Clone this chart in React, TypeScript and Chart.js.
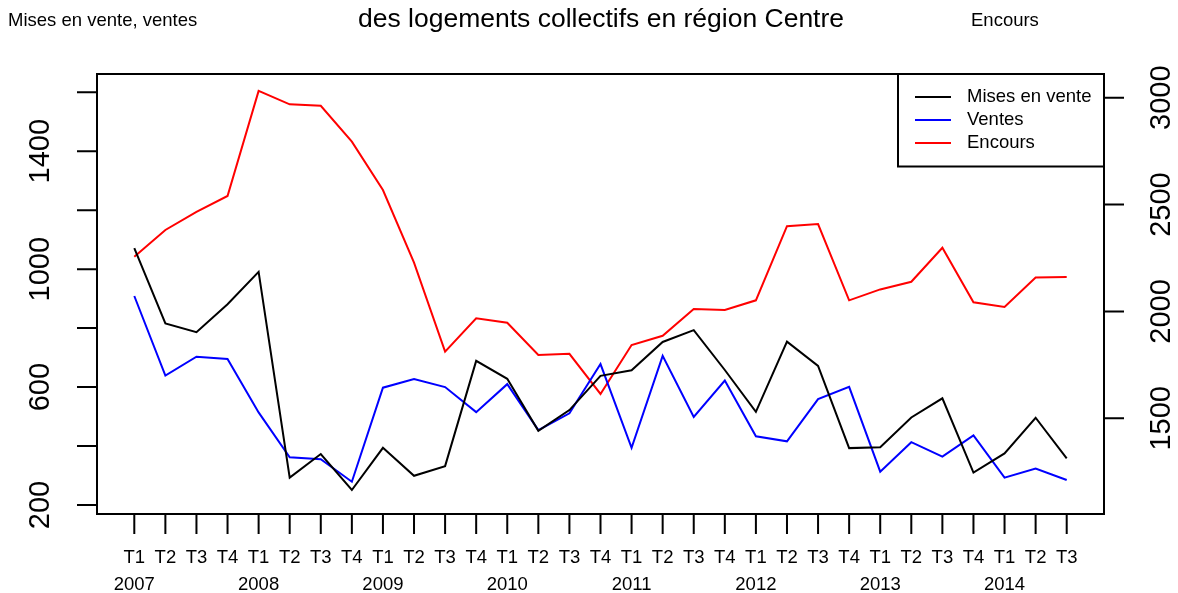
import React, { useEffect, useRef } from "react";
import { Chart, registerables } from "chart.js";

Chart.register(...registerables);

const quarters = [
  "T1", "T2", "T3", "T4", "T1", "T2", "T3", "T4", "T1", "T2", "T3", "T4",
  "T1", "T2", "T3", "T4", "T1", "T2", "T3", "T4", "T1", "T2", "T3", "T4",
  "T1", "T2", "T3", "T4", "T1", "T2", "T3",
];
const years = ["2007", "2008", "2009", "2010", "2011", "2012", "2013", "2014"];

const misesEnVente = [
  1071, 816, 786, 881, 991, 293, 373, 251, 394, 299, 332, 689,
  628, 452, 522, 638, 657, 753, 793, 658, 516, 754, 672, 393,
  396, 497, 562, 310, 375, 496, 358,
];
const ventes = [
  909, 639, 703, 695, 514, 362, 355, 279, 598, 627, 600, 515,
  610, 454, 511, 678, 394, 706, 499, 622, 433, 416, 559, 601,
  313, 413, 364, 436, 293, 324, 285,
];
const encours = [
  2256, 2381, 2466, 2540, 3032, 2969, 2962, 2794, 2568, 2228, 1812, 1968,
  1947, 1796, 1802, 1614, 1843, 1886, 2011, 2007, 2052, 2399, 2409, 2052,
  2103, 2139, 2298, 2043, 2021, 2159, 2161,
];

const leftTicks = [200, 400, 600, 800, 1000, 1200, 1400, 1600];
const leftLabels = [200, 600, 1000, 1400];
const rightTicks = [1500, 2000, 2500, 3000];

const seriesNames = ["Mises en vente", "Ventes", "Encours"];
const seriesColors = ["#000000", "#0000ff", "#ff0000"];

const FONT = '"Liberation Sans", Arial, Helvetica, sans-serif';

const decorPlugin = {
  id: "rDecor",
  afterDraw(chart: any) {
    const ctx = chart.ctx as CanvasRenderingContext2D;
    const area = chart.chartArea;
    const xs = chart.scales.x;
    const yl = chart.scales.y;
    const yr = chart.scales.y2;
    ctx.save();
    ctx.strokeStyle = "#000";
    ctx.fillStyle = "#000";
    ctx.lineWidth = 2;

    // box
    ctx.strokeRect(area.left, area.top, area.right - area.left, area.bottom - area.top);

    const tickLen = 20;
    // x ticks
    ctx.beginPath();
    quarters.forEach((_, i) => {
      const px = xs.getPixelForValue(i);
      ctx.moveTo(px, area.bottom);
      ctx.lineTo(px, area.bottom + tickLen);
    });
    ctx.stroke();
    ctx.font = `18.5px ${FONT}`;
    ctx.textAlign = "center";
    ctx.textBaseline = "middle";
    quarters.forEach((q, i) => {
      ctx.fillText(q, xs.getPixelForValue(i), 558);
    });
    years.forEach((y, k) => {
      ctx.fillText(y, xs.getPixelForValue(k * 4), 585);
    });

    // left ticks
    ctx.beginPath();
    leftTicks.forEach((v) => {
      const py = yl.getPixelForValue(v);
      ctx.moveTo(area.left, py);
      ctx.lineTo(area.left - tickLen, py);
    });
    ctx.stroke();
    ctx.font = `29px ${FONT}`;
    leftLabels.forEach((v) => {
      const py = yl.getPixelForValue(v);
      ctx.save();
      ctx.translate(41, py);
      ctx.rotate(-Math.PI / 2);
      ctx.fillText(String(v), 0, 0);
      ctx.restore();
    });

    // right ticks
    ctx.beginPath();
    rightTicks.forEach((v) => {
      const py = yr.getPixelForValue(v);
      ctx.moveTo(area.right, py);
      ctx.lineTo(area.right + tickLen, py);
    });
    ctx.stroke();
    rightTicks.forEach((v) => {
      const py = yr.getPixelForValue(v);
      ctx.save();
      ctx.translate(1162, py);
      ctx.rotate(-Math.PI / 2);
      ctx.fillText(String(v), 0, 0);
      ctx.restore();
    });

    // titles
    ctx.font = `18.5px ${FONT}`;
    ctx.textAlign = "left";
    ctx.fillText("Mises en vente, ventes", 8, 21);
    ctx.fillText("Encours", 971, 21);
    ctx.font = `26.5px ${FONT}`;
    ctx.textAlign = "center";
    ctx.fillText("des logements collectifs en région Centre", 601, 20);

    // legend
    const lx = 898, ly = area.top, lw = area.right - 898, lh = 92.5;
    ctx.fillStyle = "#fff";
    ctx.fillRect(lx, ly, lw, lh);
    ctx.strokeStyle = "#000";
    ctx.strokeRect(lx, ly, lw, lh);
    const rows = [97, 120, 143];
    ctx.font = `18.5px ${FONT}`;
    ctx.textAlign = "left";
    seriesNames.forEach((n, i) => {
      ctx.strokeStyle = seriesColors[i];
      ctx.beginPath();
      ctx.moveTo(915, rows[i]);
      ctx.lineTo(951, rows[i]);
      ctx.stroke();
      ctx.fillStyle = "#000";
      ctx.fillText(n, 967, rows[i]);
    });
    ctx.restore();
  },
};

export default function App() {
  const ref = useRef<HTMLCanvasElement | null>(null);
  useEffect(() => {
    document.body.style.margin = "0";
    if (!ref.current) return;
    const mk = (arr: number[]) => arr.map((v, i) => ({ x: i, y: v }));
    const chart = new Chart(ref.current, {
      type: "line",
      data: {
        datasets: [
          { label: seriesNames[0], data: mk(misesEnVente), borderColor: seriesColors[0], yAxisID: "y" },
          { label: seriesNames[1], data: mk(ventes), borderColor: seriesColors[1], yAxisID: "y" },
          { label: seriesNames[2], data: mk(encours), borderColor: seriesColors[2], yAxisID: "y2" },
        ].map((d) => ({ ...d, borderWidth: 2, pointRadius: 0, tension: 0, fill: false })),
      },
      options: {
        animation: false,
        responsive: false,
        devicePixelRatio: 1,
        layout: { padding: { left: 97, right: 74, top: 74, bottom: 79 } },
        plugins: { legend: { display: false }, tooltip: { enabled: false }, title: { display: false } },
        events: [],
        scales: {
          x: { type: "linear", min: -1.2, max: 31.2, display: false },
          y: { type: "linear", position: "left", min: 169.5, max: 1662, display: false },
          y2: { type: "linear", position: "right", min: 1052.4, max: 3110.8, display: false },
        },
      },
      plugins: [decorPlugin],
    } as any);
    return () => chart.destroy();
  }, []);
  return (
    <div style={{ position: "absolute", left: 0, top: 0, width: 1178, height: 593, background: "#fff" }}>
      <canvas ref={ref} width={1178} height={593} />
    </div>
  );
}
